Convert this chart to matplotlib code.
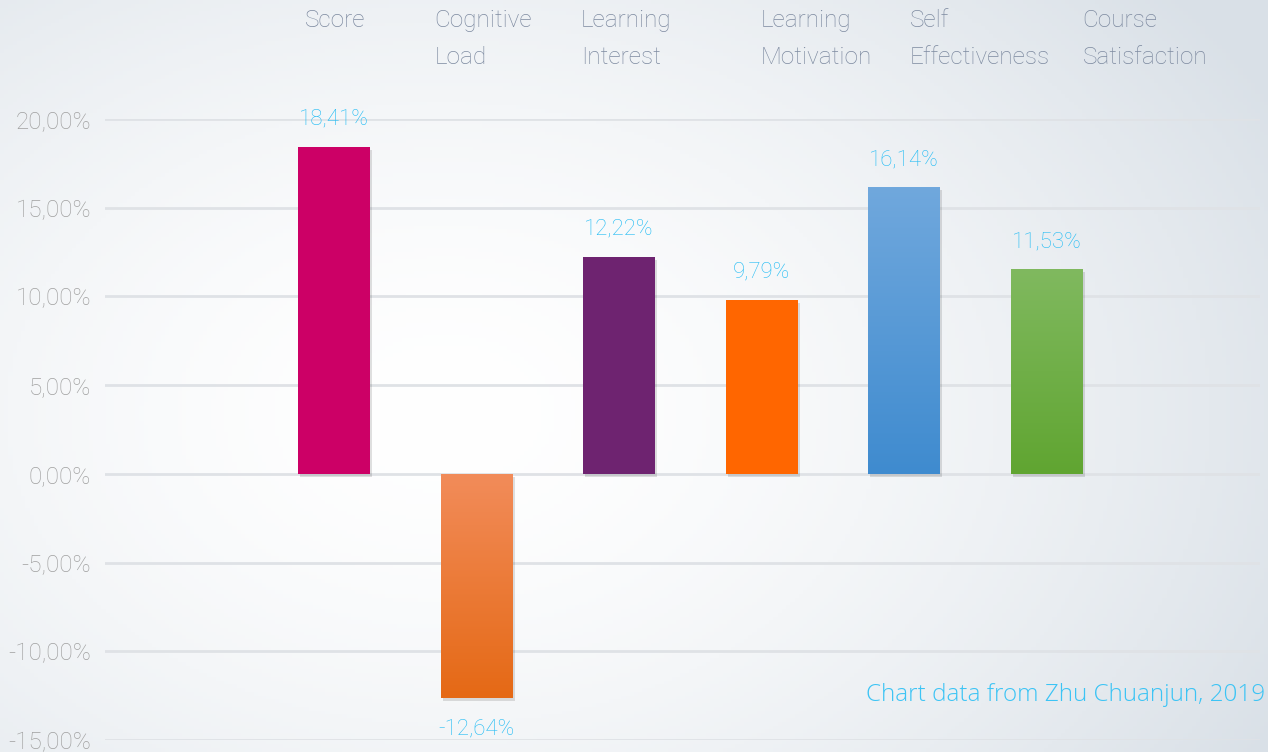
import numpy as np
import matplotlib
matplotlib.use("Agg")
import matplotlib.pyplot as plt
from matplotlib import patheffects as pe

# data
categories = ["Score", "Cognitive\nLoad", "Learning\nInterest", "Learning\nMotivation",
              "Self\nEffectiveness", "Course\nSatisfaction"]
values = [18.41, -12.64, 12.22, 9.79, 16.14, 11.53]
value_labels = ["18,41%", "-12,64%", "12,22%", "9,79%", "16,14%", "11,53%"]
yticks = [20, 15, 10, 5, 0, -5, -10, -15]
ytick_labels = ["20,00%", "15,00%", "10,00%", "5,00%", "0,00%", "-5,00%", "-10,00%", "-15,00%"]
# (top colour, bottom colour) per bar
bar_colors = [("#cc0066", "#cc0066"), ("#f28c5a", "#e56915"), ("#6e2370", "#6e2370"),
              ("#ff6600", "#ff6600"), ("#70a8dd", "#3f8bcf"), ("#80b95f", "#60a531")]

# horizontal shift of each header label from its bar's left edge (in pixels)
label_shift = [7, -6, -2, 35, 42, 72]

FONT = "Roboto"
W, H = 1268, 752
fig = plt.figure(figsize=(W / 100, H / 100), dpi=100)

# background gradient
bg = fig.add_axes([0, 0, 1, 1], zorder=-10)
yy, xx = np.mgrid[0:1:200j, 0:1:300j]
d = np.clip(np.sqrt(((xx - 0.35) / 1.0) ** 2 + ((yy - 0.45) / 1.2) ** 2) / 0.75, 0, 1) ** 1.6
c0 = np.array([1.0, 1.0, 1.0])
c1 = np.array([0xd9, 0xe0, 0xe7]) / 255
img = c0 + (c1 - c0) * d[..., None]
bg.imshow(img, aspect="auto", extent=[0, 1, 0, 1], origin="lower")
bg.axis("off")

# main axes: x from 105px to 1260px, y from 119px (20%) to 740px (-15%)
left, right = 105 / W, 1260 / W
top, bottom = 1 - 119 / H, 1 - 740 / H
ax = fig.add_axes([left, bottom, right - left, top - bottom])
ax.patch.set_alpha(0)
x = np.arange(len(values))
width = 0.505
ax.set_xlim(-1.607, 6.498)
ax.set_ylim(-15, 20)

bars = ax.bar(x, values, width=width, zorder=3, linewidth=0)
for b, (ctop, cbot) in zip(bars, bar_colors):
    b.set_facecolor(ctop)
    b.set_path_effects([pe.SimplePatchShadow(offset=(1.5, -2), shadow_rgbFace="#000000", alpha=0.12),
                        pe.Normal()])
    if ctop != cbot:
        x0, y0 = b.get_x(), b.get_y()
        h = b.get_height()
        t = np.linspace(0, 1, 256)[:, None]
        a = np.array(matplotlib.colors.to_rgb(ctop))
        z = np.array(matplotlib.colors.to_rgb(cbot))
        grad = (a + (z - a) * t[..., None]) * np.ones((1, 2, 1))
        ylo, yhi = min(y0, y0 + h), max(y0, y0 + h)
        im = ax.imshow(grad, extent=[x0, x0 + b.get_width(), ylo, yhi], origin="upper",
                       aspect="auto", zorder=4)
        im.set_clip_path(b)

for xi, v, lab in zip(x, values, value_labels):
    off = 20 if v >= 0 else -22
    ax.annotate(lab, (xi, v), xytext=(0, off), textcoords="offset points", ha="center",
                va="center", color="#22bcf4", fontsize=16, family=FONT, fontweight="light")

for xi, lab, sh in zip(x, categories, label_shift):
    ax.annotate(lab, (xi - width / 2, 20), xytext=(sh, 110), textcoords="offset pixels",
                ha="left", va="top", color="#7d8aa0", fontsize=17.5, family=FONT,
                fontweight="light", linespacing=1.75, annotation_clip=False)

ax.set_yticks(yticks)
ax.set_yticklabels(ytick_labels, family=FONT, fontweight="light", fontsize=17.5, color="#a0a0a0")
ax.tick_params(axis="y", length=0, pad=10)
ax.set_xticks([])
ax.grid(axis="y", color="#dfe2e6", linewidth=2, zorder=0)
for s in ax.spines.values():
    s.set_visible(False)

fig.text(1265 / W, 1 - 695 / H, "Chart data from Zhu Chuanjun, 2019", ha="right", va="center",
         color="#3cc4f5", fontsize=17.5, family="Open Sans", fontweight="light")

fig.savefig("out.png", dpi=100)
